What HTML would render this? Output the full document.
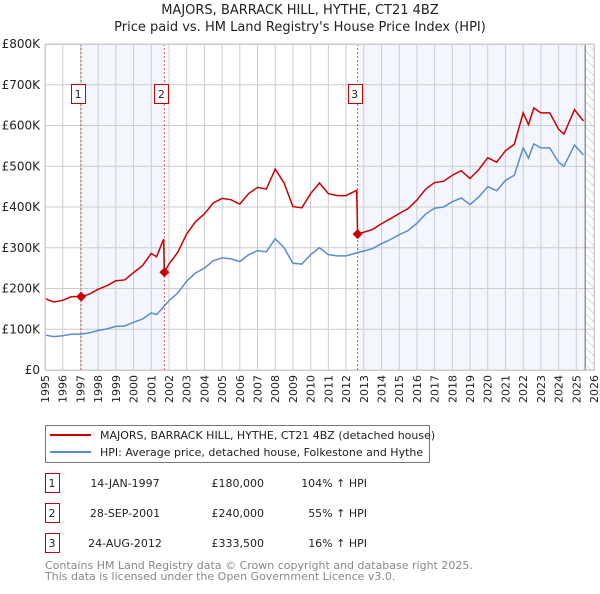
<!DOCTYPE html>
<html><head><meta charset="utf-8"><style>
body{margin:0;background:#fff;font-family:"DejaVu Sans","Liberation Sans",sans-serif;}
svg text{font-family:"DejaVu Sans","Liberation Sans",sans-serif;}
</style></head><body>
<svg id="c" width="600" height="590" xmlns="http://www.w3.org/2000/svg">
<defs><pattern id="hatch" width="6" height="6" patternUnits="userSpaceOnUse" patternTransform="rotate(-45)"><line x1="0" y1="0" x2="0" y2="6" stroke="#bbb" stroke-width="1"/></pattern></defs>
<text x="300" y="14" text-anchor="middle" font-size="13" fill="#222">MAJORS, BARRACK HILL, HYTHE, CT21 4BZ</text>
<text x="300" y="31" text-anchor="middle" font-size="13" fill="#222">Price paid vs. HM Land Registry's House Price Index (HPI)</text>
<g id="plot"></g>
<g>
<rect x="45.5" y="425.5" width="384" height="37" fill="#fff" stroke="#777"/>
<line x1="50" y1="435" x2="91" y2="435" stroke="#cc0000" stroke-width="2"/>
<text x="100" y="439" font-size="11" fill="#222">MAJORS, BARRACK HILL, HYTHE, CT21 4BZ (detached house)</text>
<line x1="50" y1="452" x2="91" y2="452" stroke="#5b8bd0" stroke-width="2"/>
<text x="100" y="456" font-size="11" fill="#222">HPI: Average price, detached house, Folkestone and Hythe</text>
</g>
<g id="table" font-size="11" fill="#222"></g>
<text x="45" y="569" font-size="11" fill="#888">Contains HM Land Registry data © Crown copyright and database right 2025.</text>
<text x="45" y="580" font-size="11" fill="#888">This data is licensed under the Open Government Licence v3.0.</text>
</svg>
<script>
const yTicks=[0,100,200,300,400,500,600,700,800];
const yTickLabels=["£0","£100K","£200K","£300K","£400K","£500K","£600K","£700K","£800K"];
const xYears=[1995,1996,1997,1998,1999,2000,2001,2002,2003,2004,2005,2006,2007,2008,2009,2010,2011,2012,2013,2014,2015,2016,2017,2018,2019,2020,2021,2022,2023,2024,2025,2026];
const hpiDates=[1995,1995.5,1996,1996.5,1997,1997.5,1998,1998.5,1999,1999.5,2000,2000.5,2001,2001.3,2001.74,2002,2002.5,2003,2003.5,2004,2004.5,2005,2005.5,2006,2006.5,2007,2007.5,2008,2008.5,2009,2009.5,2010,2010.5,2011,2011.5,2012,2012.65,2013,2013.5,2014,2014.5,2015,2015.5,2016,2016.5,2017,2017.5,2018,2018.5,2019,2019.5,2020,2020.5,2021,2021.5,2022,2022.3,2022.6,2023,2023.5,2024,2024.3,2024.9,2025.4];
const hpiValues=[86,82,84,88,88,91,97,101,107,108,117,125,140,136,157,170,189,218,238,250,268,275,273,266,283,293,290,322,300,262,260,283,300,283,280,280,288,292,298,310,320,332,342,360,383,397,400,413,422,406,425,450,440,465,478,545,520,555,545,545,510,500,552,528];
const priceDates=[1995,1995.5,1996,1996.5,1997.04,1997.5,1998,1998.5,1999,1999.5,2000,2000.5,2001,2001.3,2001.7,2001.74,2002,2002.5,2003,2003.5,2004,2004.5,2005,2005.5,2006,2006.5,2007,2007.5,2008,2008.5,2009,2009.5,2010,2010.5,2011,2011.5,2012,2012.6,2012.65,2013,2013.5,2014,2014.5,2015,2015.5,2016,2016.5,2017,2017.5,2018,2018.5,2019,2019.5,2020,2020.5,2021,2021.5,2022,2022.3,2022.6,2023,2023.5,2024,2024.3,2024.9,2025.4];
const priceValues=[175,167,171,180,180,186,198,207,219,221,239,256,286,278,321,240,260,289,334,364,383,410,421,418,407,433,448,444,493,459,401,398,433,459,433,428,428,441,333.5,338,345,359,371,384,396,417,444,460,463,478,489,470,492,521,510,538,554,631,602,643,631,631,591,579,639,611];
const saleLabels=["1","2","3"];
const saleDates=[1997.04,2001.74,2012.65];
const salePrices=[180,240,333.5];
const saleDateText=["14-JAN-1997","28-SEP-2001","24-AUG-2012"];
const salePriceText=["£180,000","£240,000","£333,500"];
const saleHpiText=["104% ↑ HPI","55% ↑ HPI","16% ↑ HPI"];

const X0=45,X1=594,Y0=370,Y1=44;
const xs=d=>X0+(d-1995)/(2026-1995)*(X1-X0);
const ys=v=>Y0-v/800*(Y0-Y1);
const NS="http://www.w3.org/2000/svg";
const plot=document.getElementById('plot');
function mk(tag,attrs,parent){const e=document.createElementNS(NS,tag);for(const k in attrs)e.setAttribute(k,attrs[k]);(parent||plot).appendChild(e);return e;}

let r=mk('rect',{x:xs(saleDates[0]),y:Y1,width:xs(saleDates[1])-xs(saleDates[0]),height:Y0-Y1,fill:'#eef3fc',opacity:0.7});


r=mk('rect',{x:xs(saleDates[2]),y:Y1,width:xs(2025.5)-xs(saleDates[2]),height:Y0-Y1,fill:'#eef3fc',opacity:0.7});


r=mk('rect',{x:xs(2025.5),y:Y1,width:X1-xs(2025.5),height:Y0-Y1,fill:'url(#hatch)'});


xYears.forEach(y=>{const l=mk('line',{x1:xs(y),x2:xs(y),y1:Y1,y2:Y0,stroke:'#ccc','stroke-width':1});


const t=mk('text',{x:0,y:0,'font-size':11,fill:'#222','text-anchor':'end',transform:`translate(${xs(y)+4},${Y0+5}) rotate(-90)`});t.textContent=y;

});
yTicks.forEach((v,i)=>{const l=mk('line',{x1:X0,x2:X1,y1:ys(v),y2:ys(v),stroke:'#ccc','stroke-width':1});


const t=mk('text',{x:40,y:ys(v)+4,'font-size':12,fill:'#222','text-anchor':'end'});t.textContent=yTickLabels[i];

});
const cl=mk('line',{x1:xs(2025.5),x2:xs(2025.5),y1:Y1,y2:Y0,stroke:'#666','stroke-width':1});


saleDates.forEach((d,i)=>{const l=mk('line',{x1:xs(d),x2:xs(d),y1:Y1,y2:Y0,stroke:'#e55','stroke-width':1,'stroke-dasharray':'2,2'});

});
const hp=mk('polyline',{points:hpiDates.map((d,i)=>xs(d)+','+ys(hpiValues[i])).join(' '),fill:'none',stroke:'#5b8bd0','stroke-width':1.5});


const pp=mk('polyline',{points:priceDates.map((d,i)=>xs(d)+','+ys(priceValues[i])).join(' '),fill:'none',stroke:'#cc0000','stroke-width':1.5});


saleDates.forEach((d,i)=>{const cx=xs(d),cy=ys(salePrices[i]);
const p=mk('polygon',{points:`${cx},${cy-5} ${cx+5},${cy} ${cx},${cy+5} ${cx-5},${cy}`,fill:'#cc0000'});


const b=mk('rect',{x:Math.round(cx-10)+0.5,y:84.5,width:14,height:19,fill:'#fff',stroke:'#cc0000'});


const t=mk('text',{x:cx-3,y:98,'font-size':11,fill:'#222','text-anchor':'middle'});t.textContent=saleLabels[i];

});
mk('rect',{x:X0+0.5,y:Y1+0.5,width:X1-X0,height:Y0-Y1,fill:'none',stroke:'#ccc'});
const tb=document.getElementById('table');
saleLabels.forEach((s,i)=>{const y=483+i*30;
const b=mk('rect',{x:45.5,y:y-9.5,width:14,height:19,fill:'#fff',stroke:'#cc0000'},tb);


const vals=[[52,s,'middle'],[125,saleDateText[i],'middle'],[264,salePriceText[i],'end'],[367,saleHpiText[i],'end']];
vals.forEach(v=>{const t=mk('text',{x:v[0],y:y+4,'text-anchor':v[2],fill:'#222'},tb);t.textContent=v[1];

});});
</script>
</body></html>
